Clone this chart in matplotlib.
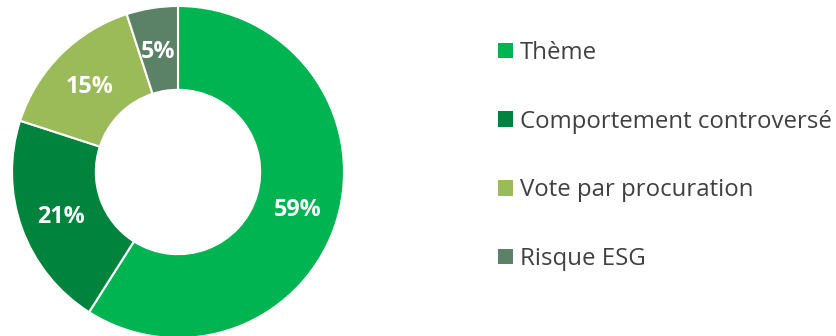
import matplotlib
matplotlib.use("Agg")
import matplotlib.pyplot as plt
from matplotlib.patches import Patch

categories = ["Thème", "Comportement controversé", "Vote par procuration", "Risque ESG"]
values = [59, 21, 15, 5]
colors = ["#00B451", "#00843D", "#9BBB59", "#5B8266"]

plt.rcParams['font.family'] = ['Open Sans', 'DejaVu Sans']

W, H = 837, 336
fig = plt.figure(figsize=(W / 100, H / 100), dpi=100)
cx, cy, R = 178, 172, 166
ax = fig.add_axes([(cx - R) / W, (H - cy - R) / H, 2 * R / W, 2 * R / H])
ax.axis('off')

wedges, texts, autotexts = ax.pie(
    values, colors=colors, startangle=90, counterclock=False, radius=1,
    autopct=lambda p: f"{p:.0f}%", pctdistance=0.75,
    wedgeprops=dict(width=0.505, edgecolor='white', linewidth=1.5),
    textprops=dict(color='white', fontsize=16.8, fontweight='bold'))
for w in wedges:
    w.set_clip_on(False)
for t in autotexts:
    t.set_va('center_baseline')
ax.set_xlim(-1, 1)
ax.set_ylim(-1, 1)
ax.set_aspect('equal')

handles = [Patch(facecolor=c, edgecolor='none') for c in colors]
fig.legend(handles, categories, loc='upper left', bbox_to_anchor=(498 / W, 1 - 41 / H),
           frameon=False, fontsize=17.3, labelspacing=1.86, handlelength=0.62,
           handleheight=0.62, handletextpad=0.3, borderpad=0, borderaxespad=0,
           labelcolor='#404040')

fig.savefig("out.png", dpi=100)
